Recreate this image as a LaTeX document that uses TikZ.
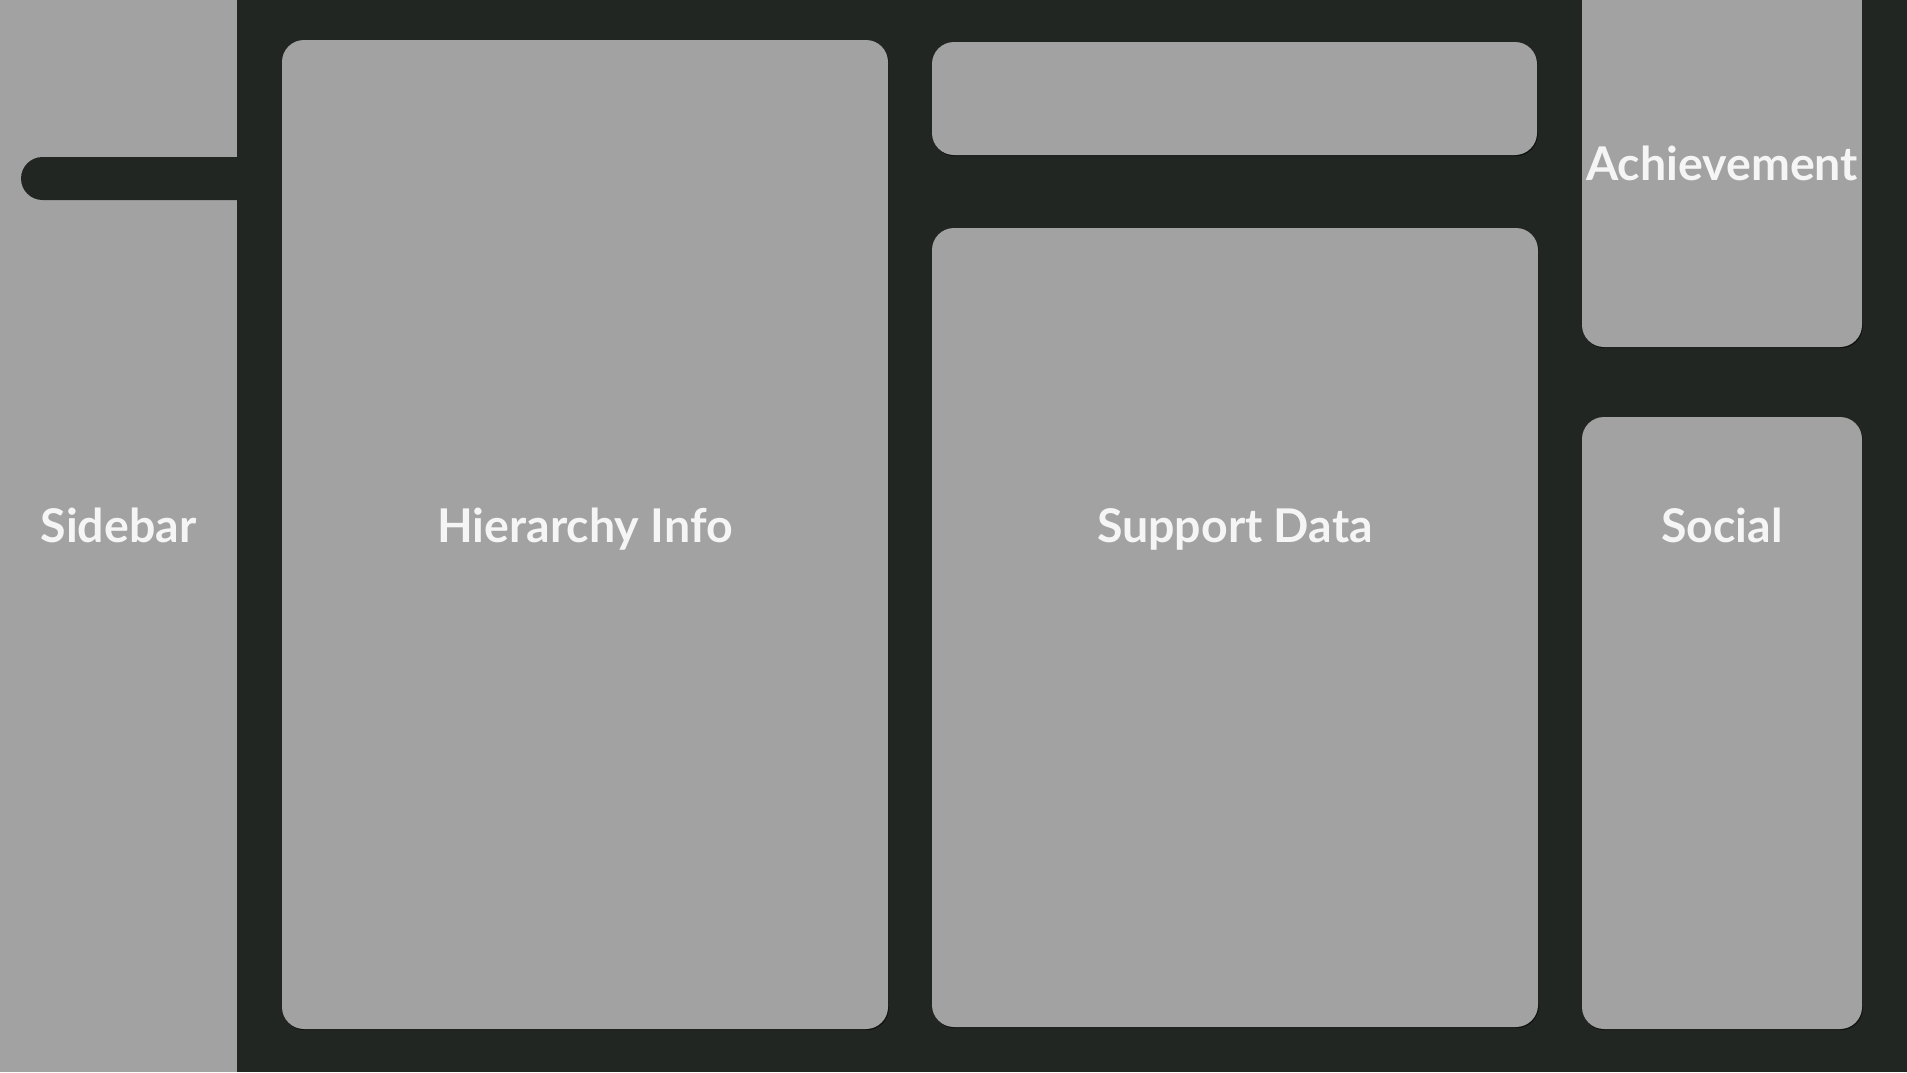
\documentclass[tikz,border=0pt]{standalone}
\usepackage{fontspec}
\setmainfont{Lato}
\usetikzlibrary{shadows}
\definecolor{boardbg}{HTML}{222623}
\definecolor{panelgrey}{HTML}{A2A2A2}
\definecolor{labelwhite}{HTML}{F5F5F5}

\begin{document}
\begin{tikzpicture}[x=1pt, y=-1pt]
 \tikzstyle{panel}=[rectangle, fill=panelgrey, inner sep=0pt, outer sep=0pt, rounded corners=22pt,
   drop shadow={shadow xshift=0.8pt, shadow yshift=-1.2pt, opacity=0.55, fill=black}]
 \tikzstyle{paneltext}=[anchor=base, text=labelwhite, inner sep=0pt, font=\fontsize{46.5}{56}\selectfont\bfseries]
 %
 \fill[boardbg] (0,0) rectangle (1907,1072);
 \useasboundingbox (0,0) rectangle (1907,1072);
 %
 \node[rectangle, fill=panelgrey, inner sep=0pt, minimum width=237pt, minimum height=1072pt] (sidebar) at (118.5, 536) {};
 \node[rectangle, fill=boardbg, inner sep=0pt, rounded corners=21.5pt, minimum width=240pt, minimum height=43pt] (handle) at (141, 178.5) {};
 %
 \node[panel, minimum width=606pt, minimum height=989pt] (hierarchy) at (585, 534.5) {};
 \node[panel, minimum width=605pt, minimum height=113pt] (topbar) at (1234.5, 98.5) {};
 \node[panel, minimum width=606pt, minimum height=799pt] (support) at (1235, 627.5) {};
 \node[panel, minimum width=280pt, minimum height=377pt] (achievement) at (1722, 158.5) {};
 \node[panel, minimum width=280pt, minimum height=612pt] (social) at (1722, 723) {};
 %%
 \coordinate (row) at (0, 542);
 \node[paneltext] (sidebartext) at (sidebar.center |- row) {Sidebar};
 \node[paneltext] (hierarchytext) at (hierarchy.center |- row) {Hierarchy Info};
 \node[paneltext] (supporttext) at (support.center |- row) {Support Data};
 \node[paneltext] (socialtext) at (social.center |- row) {Social};
 \node[paneltext] (achievementtext) at (1722, 180) {Achievement};
\end{tikzpicture}
\end{document}
